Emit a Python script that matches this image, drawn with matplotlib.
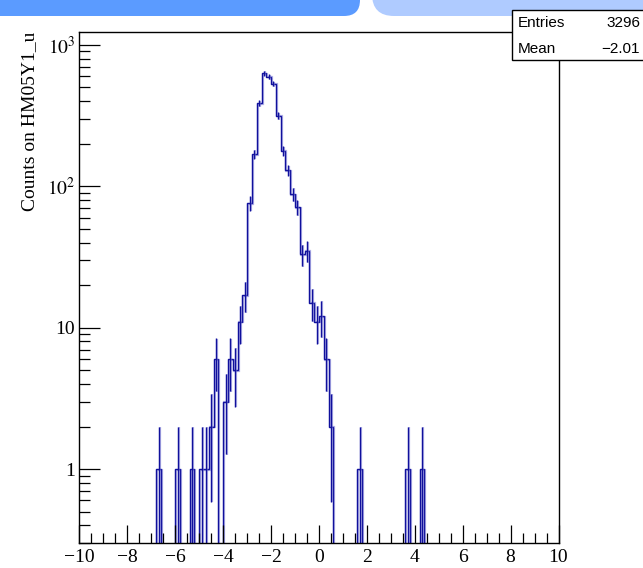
import numpy as np
import matplotlib
matplotlib.use("Agg")
import matplotlib.pyplot as plt
from matplotlib import transforms
from matplotlib.patches import FancyBboxPatch, Rectangle
from matplotlib.ticker import FixedLocator, FixedFormatter, MultipleLocator, LogLocator, NullFormatter

plt.rcParams['font.family'] = ['Liberation Serif', 'DejaVu Serif']
plt.rcParams['mathtext.fontset'] = 'stix'

# histogram: 0.2 wide bins, first non-empty bin starts at -6.8
first_edge = -6.8
bin_width = 0.2
counts = [1, 0, 0, 0, 1, 0, 0, 1, 0, 1,
          1, 2, 6, 0, 3, 6, 5, 11, 17, 76,
          169, 387, 631, 597, 531, 315, 178, 130, 88, 71,
          33, 35, 15, 11, 12, 6, 2, 0, 0, 0,
          0, 0, 1, 0, 0, 0, 0, 0, 0, 0,
          0, 0, 1, 0, 0, 1]
entries = 3296
mean = -2.01
y_ticks = [1, 10, 100, 1000]
y_tick_labels = ['1', '10', r'$10^{2}$', r'$10^{3}$']
x_ticks = [-10, -8, -6, -4, -2, 0, 2, 4, 6, 8, 10]

counts = np.array(counts, dtype=float)
edges = first_edge + bin_width * np.arange(len(counts) + 1)
centers = 0.5 * (edges[:-1] + edges[1:])
drawn = np.where(counts > 0, counts, 1e-3)

fig = plt.figure(figsize=(6.43, 5.68), dpi=100)
ax = fig.add_axes([0.1236, 0.0440, 0.7450, 0.9002])

dark = '#10109c'
light = '#8080d8'
shadow = transforms.offset_copy(ax.transData, fig=fig, x=1.0, y=-0.5, units='dots')

nz = counts > 0
err = np.sqrt(counts[nz])
lo = np.maximum(counts[nz] - err, 1e-3)
hi = counts[nz] + err

# soft offset copy (the reference looks double drawn)
ax.stairs(drawn, edges, baseline=1e-3, color=light, lw=1.6, alpha=0.6, transform=shadow)
ax.vlines(centers[nz], lo, hi, color=light, lw=1.6, alpha=0.6, transform=shadow)
ax.stairs(drawn, edges, baseline=1e-3, color=dark, lw=1.0)
ax.vlines(centers[nz], lo, hi, color=dark, lw=1.0)

ax.set_yscale('log')
ax.set_xlim(-10, 10)
ax.set_ylim(0.3, 1240)

ax.xaxis.set_major_locator(FixedLocator(x_ticks))
ax.xaxis.set_minor_locator(MultipleLocator(0.5))
ax.yaxis.set_major_locator(FixedLocator(y_ticks))
ax.yaxis.set_major_formatter(FixedFormatter(y_tick_labels))
ax.yaxis.set_minor_locator(LogLocator(base=10, subs=np.arange(2, 10)))
ax.yaxis.set_minor_formatter(NullFormatter())

ax.tick_params(which='both', direction='in', top=False, right=False, labelsize=14, width=0.9)
ax.tick_params(axis='x', which='major', length=13, pad=4)
ax.tick_params(axis='x', which='minor', length=7)
ax.tick_params(axis='y', which='major', length=15, pad=3)
ax.tick_params(axis='y', which='minor', length=8)
for sp in ax.spines.values():
    sp.set_linewidth(1.0)

fig.text(30 / 643, 0.9442, 'Counts on HM05Y1_u', rotation=90, ha='center', va='top', fontsize=14)

# banner at the top of the page
fig.patches.append(FancyBboxPatch((-20, 552), 380, 60, boxstyle='round,pad=0,rounding_size=16',
                                  transform=transforms.IdentityTransform(), fc='#5b9bff', ec='none'))
fig.patches.append(FancyBboxPatch((372, 552), 320, 60, boxstyle='round,pad=0,rounding_size=22',
                                  transform=transforms.IdentityTransform(), fc='#afcbff', ec='none'))

# stats box
fig.patches.append(Rectangle((512, 508), 140, 50, transform=transforms.IdentityTransform(),
                             fc='white', ec='black', lw=1.0, zorder=5))
stat_font = dict(family=['Liberation Sans', 'DejaVu Sans'], fontsize=11, va='center',
                 transform=transforms.IdentityTransform(), zorder=6)
fig.text(518, 545, 'Entries', ha='left', **stat_font)
fig.text(640, 545, '%d' % entries, ha='right', **stat_font)
fig.text(518, 519, 'Mean', ha='left', **stat_font)
fig.text(640, 519, ('%.2f' % mean).replace('-', '\u2212'), ha='right', **stat_font)

fig.savefig('out.png', dpi=100)
